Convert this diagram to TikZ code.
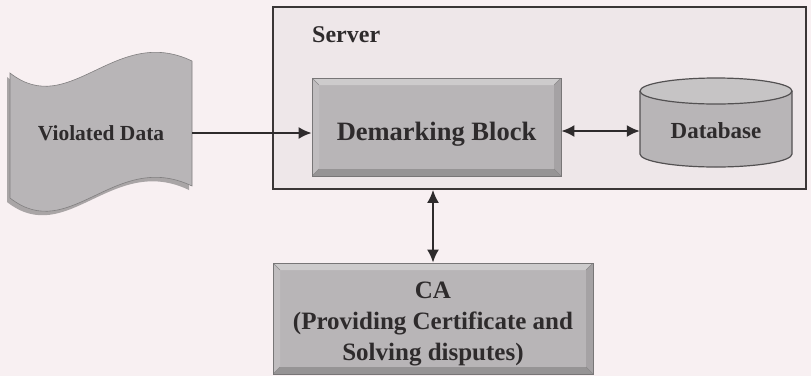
\documentclass[tikz,border=0pt]{standalone}
\usepackage{fontspec}
\setmainfont{Liberation Serif}
\usetikzlibrary{arrows.meta,calc}
\definecolor{paper}{HTML}{F8F0F2}
\definecolor{panel}{HTML}{B8B5B7}
\definecolor{ink}{HTML}{2E2B2C}
\definecolor{frame}{HTML}{3A3636}

\tikzset{
  bevelbox/.style={
    draw=panel!65!black, line width=0.8pt, fill=panel, inner sep=0pt,
    align=center, text=ink,
    path picture={
      \coordinate (bnw) at (path picture bounding box.north west);
      \coordinate (bne) at (path picture bounding box.north east);
      \coordinate (bse) at (path picture bounding box.south east);
      \coordinate (bsw) at (path picture bounding box.south west);
      \coordinate (inw) at ([shift={(7pt,-7pt)}]bnw);
      \coordinate (ine) at ([shift={(-7pt,-7pt)}]bne);
      \coordinate (ise) at ([shift={(-7pt,7pt)}]bse);
      \coordinate (isw) at ([shift={(7pt,7pt)}]bsw);
      \fill[white,opacity=0.30] (bnw) -- (bne) -- (ine) -- (inw) -- cycle;
      \fill[white,opacity=0.12] (bnw) -- (inw) -- (isw) -- (bsw) -- cycle;
      \fill[black,opacity=0.18] (bsw) -- (isw) -- (ise) -- (bse) -- cycle;
      \fill[black,opacity=0.10] (bne) -- (ine) -- (ise) -- (bse) -- cycle;
      \draw[panel!75!black,line width=0.4pt] (bnw) -- (inw) (bne) -- (ine) (bse) -- (ise) (bsw) -- (isw);
    }},
  tip/.tip={Latex[length=13pt,width=12pt]},
  conn/.style={draw=ink, line width=1.9pt, -tip},
  biconn/.style={draw=ink, line width=1.9pt, tip-tip},
  tape/.style={insert path={(10,73) .. controls (70,120) and (115,24) .. (192,61)
      -- (192,186) .. controls (115,149) and (70,245) .. (10,198) -- cycle}},
  lbl/.style={text=ink, inner sep=0pt}
}

\begin{document}
\begin{tikzpicture}[x=1pt,y=-1pt]
  \useasboundingbox (0,0) rectangle (811,376);
  \fill[paper] (0,0) rectangle (811,376);

  % server enclosure
  \node[draw=frame, line width=1.8pt, fill=paper!92!gray, inner sep=0pt,
        minimum width=533pt, minimum height=182pt] (srv) at (539.5,98) {};
  \node[lbl, anchor=base west, font=\bfseries\fontsize{24}{28}\selectfont] (srvlbl) at (312,42) {Server};

  % violated data (punched tape symbol)
  \fill[panel!50!black, opacity=0.5, shift={(-3,4)}, tape];
  \fill[panel, tape];
  \draw[panel!70!black, line width=0.6pt, tape];
  \node[lbl, minimum width=182pt, minimum height=40pt,
        font=\bfseries\fontsize{21.5}{25}\selectfont] (vd) at (101,133) {Violated Data};

  % demarking block
  \node[bevelbox, minimum width=249pt, minimum height=98pt, text height=26.6pt, text depth=0pt,
        font=\bfseries\fontsize{26.5}{30}\selectfont] (dem) at (436.5,127) {Demarking Block};

  % database cylinder
  \fill[panel] (640,91) -- (640,154) arc[start angle=180, end angle=0, x radius=76, y radius=13]
        -- (792,91) -- cycle;
  \fill[panel!80!white] (716,91) ellipse[x radius=76, y radius=13];
  \draw[panel!45!black, line width=1.2pt] (640,91) -- (640,154)
        arc[start angle=180, end angle=0, x radius=76, y radius=13] -- (792,91);
  \draw[panel!45!black, line width=1.2pt] (716,91) ellipse[x radius=76, y radius=13];
  \node[lbl, minimum width=152pt, minimum height=50pt,
        font=\bfseries\fontsize{23}{27}\selectfont] (db) at (716,131) {Database};

  % certificate authority
  \node[bevelbox, minimum width=320pt, minimum height=111pt] (ca) at (433,318.5) {};
  \node[lbl, align=center, font=\bfseries\fontsize{25}{31}\selectfont] (calbl) at (433,324)
        {CA\\(Providing Certificate and\\Solving disputes)};

  % connectors
  \draw[conn] (vd.east) -- (vd.east -| dem.west);
  \draw[biconn] (dem.east |- db.west) -- (db.west);
  \draw[biconn] (ca.north) -- (ca.north |- srv.south);
\end{tikzpicture}
\end{document}
